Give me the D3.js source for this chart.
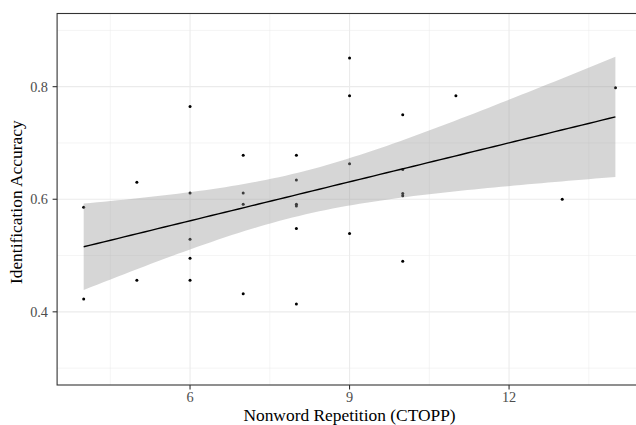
<!DOCTYPE html>
<meta charset="utf-8">
<style>

body {
  margin: 0;
  background: #fff;
}

svg { display: block; }

.tick-label { font-family: "Liberation Serif", serif; font-size: 14.3px; fill: #4d4d4d; }
.axis-title { font-family: "Liberation Serif", serif; font-size: 17.4px; fill: #000; }
.grid-major { stroke: #ebebeb; stroke-width: 1.1px; }
.grid-minor { stroke: #ebebeb; stroke-width: 0.55px; }
.tick-mark { stroke: #333; stroke-width: 1.1px; }

</style>
<body>
<script src="https://d3js.org/d3.v7.min.js"></script>
<script>

// nonword repetition score (CTOPP) and identification accuracy for each child
var nonword = [4, 4,
               5, 5,
               6, 6, 6, 6, 6,
               7, 7, 7, 7,
               8, 8, 8, 8, 8, 8,
               9, 9, 9, 9,
               10, 10, 10, 10, 10,
               11, 13, 14];
var accuracy = [0.586, 0.423,
                0.630, 0.456,
                0.765, 0.611, 0.529, 0.495, 0.456,
                0.678, 0.611, 0.591, 0.432,
                0.678, 0.634, 0.591, 0.588, 0.548, 0.414,
                0.851, 0.784, 0.663, 0.539,
                0.750, 0.653, 0.610, 0.606, 0.490,
                0.784, 0.600, 0.798];

var xMajor = [6, 9, 12];
var xMinor = [4.5, 7.5, 10.5, 13.5];
var yMajor = [0.4, 0.6, 0.8];
var yMinor = [0.3, 0.5, 0.7, 0.9];

var width = 636, height = 425;
var panel = {left: 57.1, top: 13.5, right: 642, bottom: 385};

var x = d3.scaleLinear().domain([3.5, 14.5]).range([panel.left, panel.right]);
var y = d3.scaleLinear().domain([0.27, 0.93]).range([panel.bottom, panel.top]);

// linear fit with 95% confidence band (like geom_smooth(method = "lm"))
var n = nonword.length;
var xbar = d3.mean(nonword), ybar = d3.mean(accuracy);
var sxx = d3.sum(nonword, function(d) { return (d - xbar) * (d - xbar); });
var sxy = d3.sum(nonword, function(d, i) { return (d - xbar) * (accuracy[i] - ybar); });
var slope = sxy / sxx, intercept = ybar - slope * xbar;
var rss = d3.sum(nonword, function(d, i) { var r = accuracy[i] - (intercept + slope * d); return r * r; });
var se = Math.sqrt(rss / (n - 2));
var tCrit = 2.045; // t(0.975, df = 29)

var fit = d3.range(80).map(function(i) {
  var xv = d3.min(nonword) + i * (d3.max(nonword) - d3.min(nonword)) / 79;
  var yv = intercept + slope * xv;
  var hw = tCrit * se * Math.sqrt(1 / n + (xv - xbar) * (xv - xbar) / sxx);
  return {x: xv, y: yv, lo: yv - hw, hi: yv + hw};
});

var svg = d3.select("body").append("svg")
    .attr("width", width)
    .attr("height", height);

svg.append("defs").append("clipPath").attr("id", "clip")
  .append("rect")
    .attr("x", panel.left).attr("y", panel.top)
    .attr("width", panel.right - panel.left).attr("height", panel.bottom - panel.top);

var plot = svg.append("g").attr("clip-path", "url(#clip)");

plot.selectAll(".gx-minor").data(xMinor).enter().append("line")
    .attr("class", "grid-minor")
    .attr("x1", x).attr("x2", x)
    .attr("y1", panel.top).attr("y2", panel.bottom);

plot.selectAll(".gy-minor").data(yMinor).enter().append("line")
    .attr("class", "grid-minor")
    .attr("x1", panel.left).attr("x2", panel.right)
    .attr("y1", y).attr("y2", y);

plot.selectAll(".gx-major").data(xMajor).enter().append("line")
    .attr("class", "grid-major")
    .attr("x1", x).attr("x2", x)
    .attr("y1", panel.top).attr("y2", panel.bottom);

plot.selectAll(".gy-major").data(yMajor).enter().append("line")
    .attr("class", "grid-major")
    .attr("x1", panel.left).attr("x2", panel.right)
    .attr("y1", y).attr("y2", y);

// points
plot.selectAll("circle").data(nonword).enter().append("circle")
    .attr("cx", function(d) { return x(d); })
    .attr("cy", function(d, i) { return y(accuracy[i]); })
    .attr("r", 1.5)
    .attr("fill", "#000");

// confidence ribbon
plot.append("path")
    .datum(fit)
    .attr("fill", "#999")
    .attr("fill-opacity", 0.4)
    .attr("d", d3.area()
      .x(function(d) { return x(d.x); })
      .y0(function(d) { return y(d.lo); })
      .y1(function(d) { return y(d.hi); }));

plot.append("path")
    .datum(fit)
    .attr("fill", "none")
    .attr("stroke", "#000")
    .attr("stroke-width", 1.4)
    .attr("d", d3.line()
      .x(function(d) { return x(d.x); })
      .y(function(d) { return y(d.y); }));

// panel border
svg.append("rect")
    .attr("x", panel.left).attr("y", panel.top)
    .attr("width", panel.right - panel.left).attr("height", panel.bottom - panel.top)
    .attr("fill", "none")
    .attr("stroke", "#333")
    .attr("stroke-width", 1.1);

// ticks
svg.selectAll(".xt").data(xMajor).enter().append("line")
    .attr("class", "tick-mark")
    .attr("x1", x).attr("x2", x)
    .attr("y1", panel.bottom).attr("y2", panel.bottom + 4.5);

svg.selectAll(".xl").data(xMajor).enter().append("text")
    .attr("class", "tick-label")
    .attr("x", x)
    .attr("y", 402)
    .attr("text-anchor", "middle")
    .text(function(d) { return d; });

svg.selectAll(".yt").data(yMajor).enter().append("line")
    .attr("class", "tick-mark")
    .attr("x1", panel.left - 4.5).attr("x2", panel.left)
    .attr("y1", y).attr("y2", y);

svg.selectAll(".yl").data(yMajor).enter().append("text")
    .attr("class", "tick-label")
    .attr("x", 48)
    .attr("y", y)
    .attr("dy", "0.34em")
    .attr("text-anchor", "end")
    .text(function(d) { return d3.format(".1f")(d); });

// axis titles
svg.append("text")
    .attr("class", "axis-title")
    .attr("x", (panel.left + panel.right) / 2)
    .attr("y", 421)
    .attr("text-anchor", "middle")
    .text("Nonword Repetition (CTOPP)");

svg.append("text")
    .attr("class", "axis-title")
    .attr("transform", "translate(22," + ((panel.top + panel.bottom) / 2 + 3) + ") rotate(-90)")
    .attr("text-anchor", "middle")
    .text("Identification Accuracy");

</script>
</body>
